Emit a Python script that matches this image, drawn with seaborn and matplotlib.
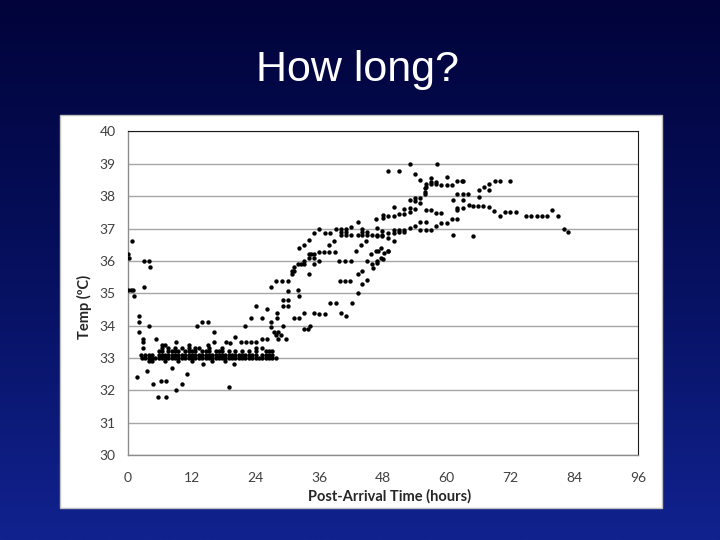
import numpy as np
import pandas as pd
import matplotlib
matplotlib.use("Agg")
import matplotlib.pyplot as plt
import seaborn as sns
from matplotlib.patches import Rectangle
from matplotlib.colors import LinearSegmentedColormap

# ---------------- data (hours after arrival, temperature in deg C) ----------------
early_hours = [0.0, 0.1, 0.8, 3.0, 4.0, 4.1, 3.0, 0.0, 0.5, 1.0, 1.1, 2.0, 2.0, 2.0,
               4.0, 2.9, 2.9, 2.9, 5.2, 2.5, 1.7, 3.6, 4.7, 6.2, 7.1, 5.7, 7.2, 9.1,
               10.1, 11.1, 8.2, 14.1, 9.1, 19.0, 20.0, 13.0, 14.0, 15.0, 16.1, 22.1,
               23.2, 25.2, 24.0, 15.1]
early_temps = [36.2, 36.1, 36.6, 36.0, 36.0, 35.8, 35.2, 35.1, 35.1, 35.1, 34.9, 34.3, 34.1, 33.8,
               34.0, 33.6, 33.5, 33.3, 33.6, 33.1, 32.4, 32.6, 32.2, 32.3, 32.3, 31.8, 31.8, 32.0,
               32.2, 32.5, 32.7, 32.8, 33.5, 32.1, 32.8, 34.0, 34.1, 34.1, 33.8, 34.0,
               34.25, 34.25, 34.6, 33.4]

band_hours = [2.6, 3.2, 3.9, 4.5, 5.1, 5.8, 6.4, 7.0, 7.6, 8.3, 8.9, 9.5, 10.2, 10.8, 11.4, 12.0,
              12.7, 13.3, 13.9, 14.6, 15.2, 15.8, 16.5, 17.1, 17.7, 18.3, 19.0, 19.6, 20.2, 20.9,
              21.5, 22.1, 22.7, 23.4, 24.0, 24.6, 25.2, 25.9, 26.5, 27.1, 27.8,
              3.2, 3.9, 4.5, 5.8, 6.4, 7.0, 7.6, 8.3, 8.9, 9.5, 10.2, 10.8, 11.4, 12.0, 12.7, 13.3,
              13.9, 14.6, 15.2, 15.8, 16.5, 17.1, 17.7, 18.3, 19.0, 19.6, 20.2, 20.9, 21.5, 22.1,
              22.7, 23.4, 24.0, 25.2, 25.9, 26.5, 27.1,
              5.8, 6.4, 7.6, 8.3, 8.9, 9.5, 10.8, 11.4, 12.0, 12.7, 13.9, 14.6, 15.2, 16.5, 17.1,
              17.7, 19.0, 20.2, 21.5, 22.7, 24.0, 25.9, 26.5, 27.1,
              6.4, 7.6, 8.9, 10.2, 11.4, 12.7, 13.3, 15.2, 17.7, 24.0, 25.2,
              3.9, 4.5, 7.0, 9.5, 12.0, 15.8, 18.3,
              6.4, 7.0, 11.4,
              16.1, 18.5, 19.2, 20.2, 21.2, 22.2, 23.2, 24.0, 25.2, 26.2]
band_temps = [33.0] * 41 + [33.1] * 37 + [33.2] * 24 + [33.3] * 11 + [32.9] * 7 + [33.4] * 3 + \
             [33.5, 33.5, 33.45, 33.65, 33.5, 33.5, 33.5, 33.5, 33.6, 33.6]

rise_hours = [27.0, 29.1, 30.2, 32.1, 29.1, 30.2, 26.2, 27.0, 27.0, 28.1, 28.1, 29.2, 27.4, 28.3,
              27.8, 28.8, 28.2, 29.8, 33.2, 35.0, 31.2, 32.2, 34.2, 33.9, 33.2,
              27.9, 28.9, 30.1, 30.1, 36.0, 37.0, 38.1, 39.1, 40.0, 41.0, 42.1, 32.0,
              30.8, 30.8, 31.2, 31.2, 32.0, 32.5, 33.1, 33.1, 34.0, 34.5, 35.0, 34.0, 35.0, 35.1,
              35.9, 32.1, 33.1, 34.0, 35.1, 36.0, 37.1, 38.0, 39.1, 40.0, 41.0, 42.0, 43.2,
              36.0, 36.9, 37.9, 38.9, 37.9, 38.8, 40.0, 41.0, 42.0, 40.0, 41.0, 43.2, 44.0, 44.9,
              45.9, 46.8, 47.8, 44.0, 44.9, 44.0, 43.9, 44.8, 43.0, 45.8, 46.7, 47.7, 45.9, 46.8,
              47.7, 39.8, 40.8, 41.9, 44.9, 39.9, 40.8, 41.8, 43.2, 44.0, 44.0, 45.0, 43.2, 34.0,
              46.1, 47.1, 48.1, 49.0]
rise_temps = [35.2, 34.8, 34.8, 34.9, 34.6, 34.6, 34.5, 34.1, 33.95, 34.4, 34.25, 34.0, 33.8, 33.8,
              33.7, 33.7, 33.6, 33.6, 34.4, 34.4, 34.25, 34.25, 34.0, 33.9, 33.9,
              35.37, 35.37, 35.37, 35.08, 34.35, 34.35, 34.7, 34.7, 34.4, 34.3, 34.7, 35.1,
              35.58, 35.68, 35.8, 35.7, 35.9, 35.9, 36.0, 35.9, 36.2, 36.2, 36.2, 36.1, 36.1, 35.9,
              36.0, 36.4, 36.5, 36.65, 36.86, 37.0, 36.86, 36.86, 37.0, 37.0, 37.0, 37.06, 37.2,
              36.28, 36.28, 36.28, 36.28, 36.5, 36.6, 36.8, 36.8, 36.8, 36.9, 36.9, 36.8, 36.8, 36.8,
              36.8, 36.8, 36.8, 36.9, 36.9, 37.0, 36.5, 36.6, 36.3, 36.2, 36.3, 36.4, 35.9, 36.0,
              36.1, 36.0, 36.0, 36.0, 36.0, 35.37, 35.37, 35.37, 35.6, 35.7, 35.3, 35.4, 35.0, 35.58,
              35.78, 36.3, 36.25, 36.32]

plateau_hours = [49.0, 51.0, 53.0, 58.1, 54.0, 55.0, 56.0, 56.0, 57.0, 57.0, 57.0, 58.0, 58.0,
                 59.0, 60.0, 61.0, 60.0, 61.9, 62.9, 62.0, 63.0, 64.0, 61.1, 63.1, 61.9, 62.0,
                 63.0, 64.1, 64.9, 65.9, 66.9, 67.9, 68.9, 70.0, 71.0, 72.0, 73.0,
                 66.0, 67.0, 68.0, 69.0, 70.0, 71.9, 66.0, 68.0, 64.9, 61.1,
                 50.0, 51.0, 52.0, 50.0, 51.0, 52.0, 53.0, 54.0, 55.0, 56.0, 57.0, 55.0, 56.0,
                 58.0, 59.0, 60.0, 61.0, 62.0,
                 52.0, 53.0, 53.0, 53.0, 54.0, 54.0, 54.0, 54.9, 54.9, 55.9, 55.9, 55.9, 50.0,
                 51.0, 52.0, 50.0, 49.0, 48.0, 48.0, 46.6, 56.0, 57.0, 58.0, 59.0,
                 46.9, 47.8, 46.9, 47.8, 49.0, 49.0, 50.0, 49.0, 48.0, 46.9, 63.0]
plateau_temps = [38.77, 38.77, 38.98, 38.98, 38.7, 38.5, 38.38, 38.28, 38.55, 38.44, 38.38, 38.44, 38.38,
                 38.36, 38.36, 38.36, 38.59, 38.48, 38.48, 38.07, 38.07, 38.07, 37.89, 37.89, 37.56, 37.65,
                 37.65, 37.74, 37.69, 37.69, 37.69, 37.66, 37.55, 37.4, 37.52, 37.52, 37.52,
                 38.18, 38.28, 38.38, 38.48, 38.48, 38.48, 37.98, 38.18, 36.77, 36.8,
                 36.94, 36.94, 36.94, 36.85, 36.88, 36.88, 37.02, 37.07, 36.97, 36.97, 36.97, 37.2, 37.2,
                 37.07, 37.17, 37.17, 37.28, 37.28,
                 37.59, 37.87, 37.65, 37.5, 37.95, 37.85, 37.59, 37.95, 37.8, 38.24, 38.13, 38.07, 37.68,
                 37.45, 37.45, 37.38, 37.38, 37.43, 37.33, 37.28, 37.58, 37.58, 37.47, 37.47,
                 37.02, 36.92, 36.76, 36.76, 36.85, 36.7, 36.6, 36.3, 36.07, 35.94, 38.46]

tail_hours = [74.9, 75.9, 76.9, 77.9, 78.9, 79.9, 80.9, 82.0, 82.9]
tail_temps = [37.38, 37.38, 37.38, 37.38, 37.38, 37.58, 37.38, 36.98, 36.88]

x_ticks = [0, 12, 24, 36, 48, 60, 72, 84, 96]
y_ticks = [30, 31, 32, 33, 34, 35, 36, 37, 38, 39, 40]
title_text = "How long?"
x_label = "Post-Arrival Time (hours)"
y_label = "Temp (ºC)"

df = pd.DataFrame({
    "hours": early_hours + band_hours + rise_hours + plateau_hours + tail_hours,
    "temp": early_temps + band_temps + rise_temps + plateau_temps + tail_temps,
})

# ---------------- figure ----------------
sns.set_style("white")
plt.rcParams['font.family'] = ['Lato', 'DejaVu Sans']

fig = plt.figure(figsize=(7.2, 5.4), dpi=100)

bg = fig.add_axes([0, 0, 1, 1], zorder=0)
grad = np.linspace(0, 1, 256).reshape(-1, 1)
cmap = LinearSegmentedColormap.from_list('bg', ['#01033a', '#06105e', '#11228f'])
bg.imshow(grad, aspect='auto', cmap=cmap, extent=[0, 1, 0, 1], origin='upper')
bg.add_patch(Rectangle((0.0833, 0.0593), 0.836, 0.728, transform=bg.transAxes,
                       facecolor='white', edgecolor='#bfbfbf', lw=1.0))
bg.set_xlim(0, 1)
bg.set_ylim(0, 1)
bg.axis('off')

ax = fig.add_axes([0.1778, 0.1574, 0.7083, 0.5991], zorder=2)
ax.set_facecolor('white')
sns.scatterplot(data=df, x="hours", y="temp", ax=ax, color='black', s=10,
                linewidth=0, zorder=3, legend=False)

ax.set_xlim(0, 96)
ax.set_ylim(30, 40)
ax.set_xticks(x_ticks)
ax.set_yticks(y_ticks)
ax.grid(axis='y', color='#a6a6a6', lw=1.0)
ax.grid(axis='x', visible=False)
ax.set_axisbelow(True)
for side in ['left', 'bottom']:
    ax.spines[side].set_color('#8c8c8c')
    ax.spines[side].set_linewidth(1.0)
for side in ['top', 'right']:
    ax.spines[side].set_color('#1a1a1a')
    ax.spines[side].set_linewidth(0.8)
ax.tick_params(axis='both', direction='out', length=4, width=0.8, color='#8c8c8c',
               labelsize=10, labelcolor='#404040')
ax.tick_params(axis='x', pad=8)
ax.tick_params(axis='y', pad=5)
ax.set_xlabel('')
ax.set_ylabel('')

fig.text(0.497, 0.870, title_text, color='white', fontsize=31, ha='center', va='center',
         family=['Liberation Sans', 'DejaVu Sans'])
fig.text(0.541, 0.080, x_label, color='#262626', fontsize=10.5, fontweight='bold',
         ha='center', va='center')
fig.text(0.118, 0.432, y_label, color='#262626', fontsize=10.5, fontweight='bold',
         ha='center', va='center', rotation=90)

fig.savefig("out.png", dpi=100)
